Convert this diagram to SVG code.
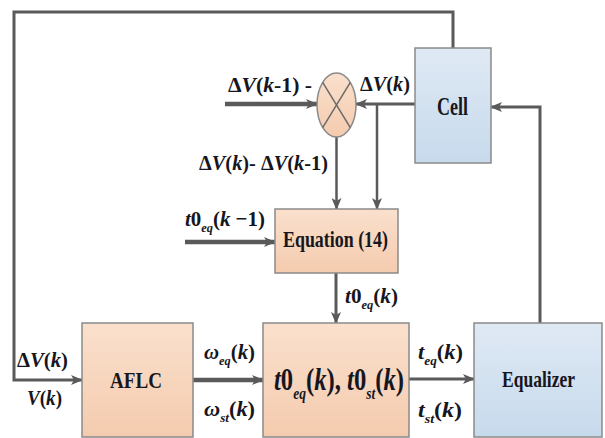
<svg xmlns="http://www.w3.org/2000/svg" width="605" height="438" viewBox="0 0 605 438">
<defs>
<linearGradient id="peach" x1="0" y1="0" x2="0" y2="1"><stop offset="0" stop-color="#fae0cd"/><stop offset="1" stop-color="#f4cbae"/></linearGradient>
<linearGradient id="blue" x1="0" y1="0" x2="0" y2="1"><stop offset="0" stop-color="#dfe9f4"/><stop offset="1" stop-color="#c7daec"/></linearGradient>
<marker id="ah" viewBox="0 0 12 10" refX="11" refY="5" markerWidth="12" markerHeight="10" markerUnits="userSpaceOnUse" orient="auto"><path d="M0,0 L12,5 L0,10 L3,5 z" fill="#5a5a5a"/></marker>
</defs>
<style>
.box{stroke:#8a8a8a;stroke-width:1.5}
.ln{fill:none;stroke:#5a5a5a;stroke-width:2.5}
.th{stroke-width:4.5}
.md{stroke-width:3}
.lb{font-size:22px}
.i{font-style:italic}
.sb{font-size:13px;font-style:italic}
</style>
<rect width="605" height="438" fill="#ffffff"/>
<g id="connectors">
<path class="ln th" d="M225,104 H317" marker-end="url(#ah)"/>
<path class="ln md" d="M415,104 H356" marker-end="url(#ah)"/>
<path class="ln" d="M377,104 V209" marker-end="url(#ah)"/>
<path class="ln" d="M336.5,137 V209" marker-end="url(#ah)"/>
<path class="ln th" d="M185,242 H275" marker-end="url(#ah)"/>
<path class="ln md" d="M336,273 V323" marker-end="url(#ah)"/>
<path class="ln md" d="M453,48 V12 H14 V380 H82" marker-end="url(#ah)"/>
<path class="ln th" d="M193,380 H263" marker-end="url(#ah)"/>
<path class="ln md" d="M409,379 H474" marker-end="url(#ah)"/>
<path class="ln md" d="M540,323 V107 H491" marker-end="url(#ah)"/>
</g>
<g font-family="Liberation Serif, Times New Roman, serif" font-weight="bold" fill="#161620">
<g id="sum">
<ellipse cx="336.5" cy="105" rx="19.5" ry="32" fill="url(#peach)" class="box"/>
<path d="M322.7,82.4 L350.3,127.6 M350.3,82.4 L322.7,127.6" stroke="#6a6a6a" stroke-width="1.5"/>
</g>
<g id="cell">
<rect x="415" y="48" width="76" height="115" fill="url(#blue)" class="box"/>
<text x="437" y="115" font-size="26" textLength="31" lengthAdjust="spacingAndGlyphs">Cell</text>
</g>
<g id="equation">
<rect x="275" y="209" width="123" height="64" fill="url(#peach)" class="box"/>
<text x="283" y="247" font-size="23" textLength="105" lengthAdjust="spacingAndGlyphs">Equation (14)</text>
</g>
<g id="aflc">
<rect x="82" y="323" width="111" height="114" fill="url(#peach)" class="box"/>
<text x="110" y="388" font-size="23" textLength="52" lengthAdjust="spacingAndGlyphs">AFLC</text>
</g>
<g id="calc">
<rect x="263" y="323" width="146" height="114" fill="url(#peach)" class="box"/>
<text x="274" y="390" font-size="31" textLength="130" lengthAdjust="spacingAndGlyphs"><tspan class="i">t</tspan>0<tspan font-size="17" font-style="italic" dy="9">eq</tspan><tspan dy="-9">(</tspan><tspan class="i">k</tspan>), <tspan class="i">t</tspan>0<tspan font-size="17" font-style="italic" dy="9">st</tspan><tspan dy="-9">(</tspan><tspan class="i">k</tspan>)</text>
</g>
<g id="equalizer">
<rect x="474" y="323" width="128" height="114" fill="url(#blue)" class="box"/>
<text x="502" y="387" font-size="23" textLength="73" lengthAdjust="spacingAndGlyphs">Equalizer</text>
</g>
<g id="labels">
<text x="228" y="92" class="lb" textLength="84" lengthAdjust="spacingAndGlyphs">Δ<tspan class="i">V</tspan>(<tspan class="i">k</tspan>-1) -</text>
<text x="360" y="91" class="lb" textLength="50" lengthAdjust="spacingAndGlyphs">Δ<tspan class="i">V</tspan>(<tspan class="i">k</tspan>)</text>
<text x="199" y="170" class="lb" textLength="129" lengthAdjust="spacingAndGlyphs">Δ<tspan class="i">V</tspan>(<tspan class="i">k</tspan>)- Δ<tspan class="i">V</tspan>(<tspan class="i">k</tspan>-1)</text>
<text x="185" y="226" class="lb" textLength="80" lengthAdjust="spacingAndGlyphs"><tspan class="i">t</tspan>0<tspan class="sb" dy="6">eq</tspan><tspan dy="-6">(</tspan><tspan class="i">k</tspan> −1)</text>
<text x="345" y="303" class="lb" textLength="53" lengthAdjust="spacingAndGlyphs"><tspan class="i">t</tspan>0<tspan class="sb" dy="6">eq</tspan><tspan dy="-6">(</tspan><tspan class="i">k</tspan>)</text>
<text x="17" y="367" class="lb" textLength="51" lengthAdjust="spacingAndGlyphs">Δ<tspan class="i">V</tspan>(<tspan class="i">k</tspan>)</text>
<text x="27" y="405" class="lb" textLength="35" lengthAdjust="spacingAndGlyphs"><tspan class="i">V</tspan>(<tspan class="i">k</tspan>)</text>
<text x="204" y="359" class="lb" textLength="51" lengthAdjust="spacingAndGlyphs"><tspan class="i">ω</tspan><tspan class="sb" dy="6">eq</tspan><tspan dy="-6">(</tspan><tspan class="i">k</tspan>)</text>
<text x="204" y="416" class="lb" textLength="51" lengthAdjust="spacingAndGlyphs"><tspan class="i">ω</tspan><tspan class="sb" dy="6">st</tspan><tspan dy="-6">(</tspan><tspan class="i">k</tspan>)</text>
<text x="418" y="359" class="lb" textLength="45" lengthAdjust="spacingAndGlyphs"><tspan class="i">t</tspan><tspan class="sb" dy="6">eq</tspan><tspan dy="-6">(</tspan><tspan class="i">k</tspan>)</text>
<text x="418" y="417" class="lb" textLength="44" lengthAdjust="spacingAndGlyphs"><tspan class="i">t</tspan><tspan class="sb" dy="6">st</tspan><tspan dy="-6">(</tspan><tspan class="i">k</tspan>)</text>
</g>
</g>
</svg>
